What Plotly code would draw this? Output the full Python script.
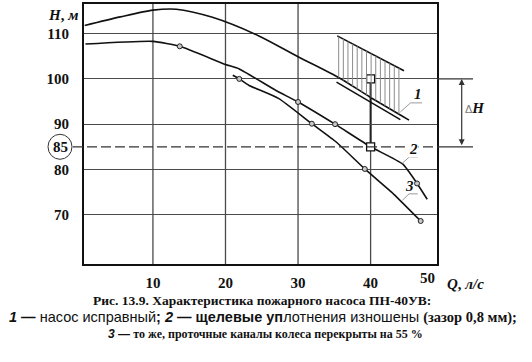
import plotly.graph_objects as go
import numpy as np

# ---------------- data ----------------
x_ticks = [10, 20, 30, 40]
x_tick_labels = ["10", "20", "30", "40"]
x_last_label = "50"
y_ticks = [70, 80, 90, 100, 110]
y_mark = 85

# curve 1 - pump in good condition
q1 = [0.6, 5.5, 10.0, 13.2, 18.2, 24.6, 30.0, 35.7, 39.9, 45.3]
h1 = [111.8, 113.7, 115.2, 115.4, 113.6, 109.5, 104.9, 100.2, 96.0, 90.9]
# tolerance band above curve 1 (hatched)
band_q = [35.4, 44.6]
band_top = [109.5, 101.8]
# short double line under curve 1
q1b = [35.3, 44.1]
h1b = [99.3, 91.0]

# curve 2 - worn seals
q2 = [0.7, 10.0, 13.7, 20.0, 21.9, 26.9, 30.0, 35.1, 40.0, 44.4, 46.4, 47.8]
h2 = [107.7, 108.3, 107.2, 103.2, 102.2, 97.5, 94.9, 90.0, 85.0, 81.2, 76.9, 73.4]
q2_pts = [13.7, 30.0, 35.1, 46.4]
h2_pts = [107.2, 94.9, 90.0, 76.9]

# curve 3 - worn seals + channels blocked 55 %
q3 = [21.0, 21.9, 23.2, 27.3, 31.9, 35.3, 39.2, 43.2, 46.9]
h3 = [100.8, 100.0, 98.6, 95.7, 90.1, 86.0, 80.1, 74.5, 68.6]
q3_pts = [21.9, 31.9, 39.2, 46.9]
h3_pts = [100.0, 90.1, 80.1, 68.6]

# required / actual operating points
q_op = [40, 40]
h_op = [100, 85]

# curve labels and leaders
lab_text = ["1", "2", "3"]
lab_q = [46.5, 45.9, 45.35]
lab_h = [96.6, 84.5, 76.4]
lead_q = [[44.1, 45.5, 47.1], [44.4, 45.3, 46.5], [44.4, 45.3, 46.5]]
lead_h = [[92.7, 94.7, 94.7], [81.4, 82.7, 82.7], [73.2, 74.6, 74.6]]

XR = [0.5, 49.15]
YR = [59.1, 116.55]

SERIF = "Liberation Serif"
SANS = "Liberation Sans"
GRID = "#4a4a4a"

L, R, T, B = 84, 95, 2, 98
W, H = 532, 362
PW = W - L - R
PH = H - T - B

def px2paper_x(px):
    return (px - L) / PW

def py2paper_y(py):
    return (H - B - py) / PH

fig = go.Figure()

# hatch lines
hq = np.linspace(35.6, 43.9, 14)
top_h = np.interp(hq, band_q, band_top)
bot_h = np.interp(hq, q1, h1)
shapes = []
for q, a, b in zip(hq, top_h, bot_h):
    shapes.append(dict(type="line", xref="x", yref="y", x0=q, x1=q, y0=b, y1=a,
                       line=dict(color="#8a8a8a", width=1), layer="above"))

# vertical grid lines
for xv in x_ticks[:3]:
    shapes.append(dict(type="line", xref="x", yref="paper", x0=xv, x1=xv, y0=0, y1=1,
                       line=dict(color=GRID, width=1.3), layer="below"))
shapes.append(dict(type="line", xref="x", yref="y", x0=40, x1=40, y0=YR[0], y1=h_op[0],
                   line=dict(color=GRID, width=1.3), layer="below"))
shapes.append(dict(type="line", xref="x", yref="y", x0=q_op[0], x1=q_op[1], y0=h_op[0], y1=h_op[1],
                   line=dict(color="#222", width=2), layer="below"))

# 85 dashed line + extensions
shapes.append(dict(type="line", xref="paper", yref="y", x0=px2paper_x(73), x1=1, y0=y_mark, y1=y_mark,
                   line=dict(color="#333", width=1.3, dash="10px,4px")))
shapes.append(dict(type="line", xref="paper", yref="y", x0=1, x1=px2paper_x(473), y0=y_mark, y1=y_mark,
                   line=dict(color="#333", width=1.3)))
shapes.append(dict(type="line", xref="paper", yref="y", x0=1, x1=px2paper_x(473), y0=100, y1=100,
                   line=dict(color="#333", width=1.3)))
# circle around 85
shapes.append(dict(type="circle", xref="paper", yref="y", xsizemode="pixel", ysizemode="pixel",
                   xanchor=px2paper_x(60), yanchor=y_mark, x0=-12, x1=12, y0=-12.5, y1=12.5,
                   line=dict(color="#333", width=1)))

# traces
line_style = dict(color="#111", width=1.6)
fig.add_trace(go.Scatter(x=q1, y=h1, mode="lines", line=dict(shape="spline", smoothing=0.8, **line_style)))
fig.add_trace(go.Scatter(x=band_q, y=band_top, mode="lines", line=line_style))
fig.add_trace(go.Scatter(x=q1b, y=h1b, mode="lines", line=line_style))
fig.add_trace(go.Scatter(x=q2, y=h2, mode="lines", line=dict(shape="spline", smoothing=0.5, **line_style)))
fig.add_trace(go.Scatter(x=q3, y=h3, mode="lines", line=dict(shape="spline", smoothing=0.5, **line_style)))
for lq, lh in zip(lead_q, lead_h):
    fig.add_trace(go.Scatter(x=lq, y=lh, mode="lines", line=dict(color="#9a9a9a", width=1)))
fig.add_trace(go.Scatter(x=q2_pts + q3_pts, y=h2_pts + h3_pts, mode="markers",
                         marker=dict(symbol="circle", size=5, color="#c8c8c8",
                                     line=dict(color="#222", width=1))))
fig.add_trace(go.Scatter(x=q_op, y=h_op, mode="markers",
                         marker=dict(symbol="square", size=8, color="white",
                                     line=dict(color="#111", width=1.3))))

ann = []
bold = dict(family=SERIF, size=15, color="#111", weight="bold")
C = dict(xanchor="center", yanchor="middle", showarrow=False)
for t, q, h in zip(lab_text, lab_q, lab_h):
    ann.append(dict(x=q, y=h, xref="x", yref="y", text="<i>%s</i>" % t,
                    font=dict(family=SERIF, size=15, color="#111", weight="bold"),
                    bgcolor="white" if t == "2" else None, borderpad=0, **C))
ann.append(dict(x=XR[1], y=0, xref="x", yref="paper", text=x_last_label, showarrow=False,
                xanchor="right", yanchor="top", yshift=-4, font=bold))
ann.append(dict(x=px2paper_x(60), y=y_mark, xref="paper", yref="y", text=str(y_mark), font=bold, **C))
ann.append(dict(x=px2paper_x(63), y=py2paper_y(13), xref="paper", yref="paper", text="<i>H</i>, <i>м</i>",
                font=bold, **C))
ann.append(dict(x=px2paper_x(445), y=py2paper_y(284), xref="paper", yref="paper", xanchor="left",
                yanchor="middle", text="<i>Q</i>, <i>л/с</i>", showarrow=False, font=bold))
# delta H arrow
ann.append(dict(x=px2paper_x(461.7), y=100, xref="paper", yref="y", ax=0, ay=85, axref="pixel", ayref="y",
                text="", showarrow=True, arrowhead=2, startarrowhead=2, arrowside="end+start",
                arrowsize=1, arrowwidth=1.2, arrowcolor="#333", standoff=0, startstandoff=0))
ann.append(dict(x=px2paper_x(475), y=py2paper_y(107), xref="paper", yref="paper",
                text="<span style='font-family:Liberation Sans;font-weight:normal;font-size:11px;fill:#777'>Δ</span><i>H</i>",
                font=bold, **C))
# caption
ann.append(dict(x=px2paper_x(262), y=py2paper_y(301), xref="paper", yref="paper",
                text="Рис. 13.9. Характеристика пожарного насоса ПН-40УВ:",
                font=dict(family=SERIF, size=13.5, color="#111", weight="bold", style="normal"), **C))
nw = "<span style='font-weight:normal'>"
ann.append(dict(x=px2paper_x(262.5), y=py2paper_y(318), xref="paper", yref="paper",
                text="<i>1</i> — " + nw + "насос исправный</span>; <i>2</i> — щелевые уп" + nw
                     + "лотнения изношены</span> <span style='font-family:Liberation Serif'>(зазор 0,8 мм);</span>",
                font=dict(family=SANS, size=14.5, color="#111", weight="bold"), **C))
ann.append(dict(x=px2paper_x(265.5), y=py2paper_y(335), xref="paper", yref="paper",
                text="<span style='font-family:Liberation Sans'><i>3</i> — </span>то же, проточные каналы колеса перекрыты на 55 %",
                font=dict(family=SERIF, size=12, color="#111", weight="bold"), **C))

fig.update_layout(
    width=W, height=H, margin=dict(l=L, r=R, t=T, b=B, pad=0),
    paper_bgcolor="white", plot_bgcolor="white", showlegend=False,
    shapes=shapes, annotations=ann,
    xaxis=dict(range=XR, tickvals=x_ticks, ticktext=x_tick_labels, showgrid=False, zeroline=False,
               showline=True, linecolor="#111", linewidth=2, mirror=True, ticks="",
               tickfont=bold, ticklabelstandoff=4),
    yaxis=dict(range=YR, tickvals=y_ticks, showgrid=True, gridcolor=GRID, gridwidth=1.3, zeroline=False,
               showline=True, linecolor="#111", linewidth=2, mirror=True, ticks="",
               tickfont=bold, ticklabelstandoff=10),
)

fig.write_html("out.html")
